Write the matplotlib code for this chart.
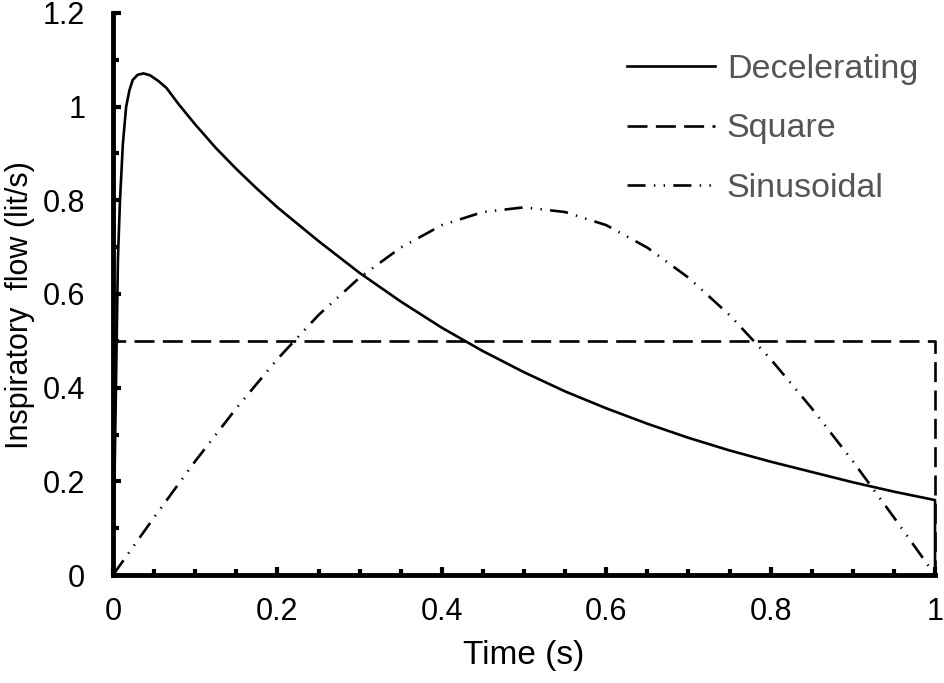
import matplotlib.pyplot as plt
from matplotlib.ticker import MultipleLocator, FormatStrFormatter

plt.rcParams['font.family'] = ['Liberation Sans', 'DejaVu Sans']

# decelerating flow
t_dec = [0, 0.002, 0.006, 0.0085, 0.012, 0.016, 0.02, 0.024, 0.03, 0.037, 0.045,
         0.055, 0.065, 0.08, 0.1, 0.125, 0.15, 0.175, 0.2, 0.25, 0.3, 0.35, 0.4, 0.45,
         0.5, 0.55, 0.6, 0.65, 0.7, 0.75, 0.8, 0.85, 0.9, 0.95, 1.0, 1.0]
v_dec = [0, 0.22, 0.675, 0.80, 0.92, 1.00, 1.035, 1.057, 1.068, 1.071, 1.067,
         1.055, 1.04, 1.005, 0.962, 0.912, 0.867, 0.825, 0.785, 0.713, 0.645, 0.584, 0.528, 0.478,
         0.433, 0.392, 0.356, 0.323, 0.293, 0.266, 0.242, 0.22, 0.198, 0.178, 0.16, 0]

# square flow
t_sq = [0, 0, 1.0, 1.0]
v_sq = [0, 0.5, 0.5, 0]

# sinusoidal flow
t_sin = [0, 0.05, 0.1, 0.15, 0.2, 0.25, 0.3, 0.35, 0.4, 0.45, 0.5,
         0.55, 0.6, 0.65, 0.7, 0.75, 0.8, 0.85, 0.9, 0.95, 1.0]
v_sin = [0, 0.123, 0.243, 0.356, 0.461, 0.555, 0.635, 0.699, 0.747, 0.775, 0.785,
         0.775, 0.747, 0.699, 0.635, 0.555, 0.461, 0.356, 0.243, 0.123, 0]

labels = ['Decelerating', 'Square', 'Sinusoidal']

fig = plt.figure(figsize=(9.44, 6.83), dpi=100)
ax = fig.add_axes([0.1197, 0.1581, 0.8708, 0.8229])

lw = 1.9
ax.plot(t_dec, v_dec, color='black', lw=lw, clip_on=False, label=labels[0])
ax.plot(t_sq, v_sq, color='black', lw=lw, clip_on=False, label=labels[1],
        linestyle=(0, (14.4 / lw, 6 / lw)))
ax.plot(t_sin, v_sin, color='black', lw=lw, clip_on=False, label=labels[2],
        linestyle=(0, (13 / lw, 6 / lw, 1 / lw, 6 / lw, 1 / lw, 6 / lw)))

ax.set_xlim(0, 1.0)
ax.set_ylim(0, 1.2)
for s in ['top', 'right']:
    ax.spines[s].set_visible(False)
for s in ['left', 'bottom']:
    ax.spines[s].set_linewidth(3.5)

ax.xaxis.set_major_locator(MultipleLocator(0.2))
ax.xaxis.set_minor_locator(MultipleLocator(0.05))
ax.yaxis.set_major_locator(MultipleLocator(0.2))
ax.yaxis.set_minor_locator(MultipleLocator(0.1))
ax.xaxis.set_major_formatter(FormatStrFormatter('%g'))
ax.yaxis.set_major_formatter(FormatStrFormatter('%g'))
ax.tick_params(which='major', direction='in', length=6, width=3, labelsize=22)
ax.tick_params(which='minor', direction='in', length=4.5, width=3)
ax.tick_params(axis='x', which='major', pad=16)
ax.tick_params(axis='y', which='major', pad=20)

ax.set_xlabel('Time (s)', fontsize=24, labelpad=9)
ax.set_ylabel('Inspiratory  flow (lit/s)', fontsize=22)
ax.yaxis.set_label_coords(-0.0949, 0.48)

ax.legend(loc='upper right', bbox_to_anchor=(1.005, 0.966), bbox_transform=fig.transFigure,
          frameon=False, fontsize=24.5, labelcolor='#555555',
          handlelength=2.59, handletextpad=0.35, labelspacing=0.84)

fig.savefig('out.png', dpi=100)
